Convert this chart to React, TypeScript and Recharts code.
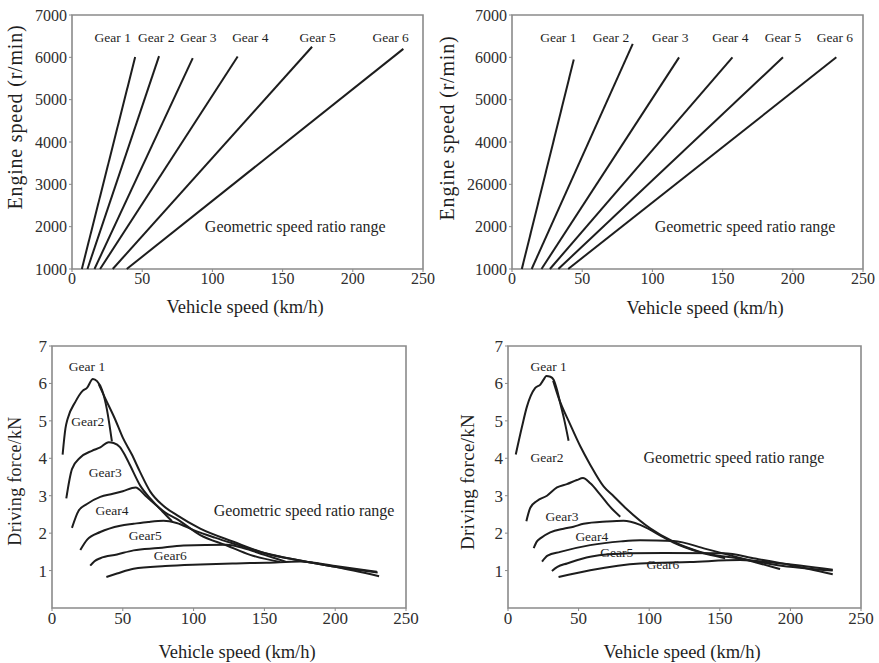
import { LineChart, Line, XAxis, YAxis, ReferenceArea, ReferenceDot } from 'recharts'

const FONT = '"Liberation Serif", "Times New Roman", Times, serif'
const INK = '#1d1d1d'
const FRAME = '#8a8a8a'

const speedTicks = [0, 50, 100, 150, 200, 250]
const rpmTicks = [1000, 2000, 3000, 4000, 5000, 6000, 7000]
const forceTicks = [1, 2, 3, 4, 5, 6, 7]

// top left: engine speed lines, one per gear (start at 1000 r/min)
const gearNames = ['Gear 1', 'Gear 2', 'Gear 3', 'Gear 4', 'Gear 5', 'Gear 6']
const leftStartSpeed = [7, 11, 16, 20, 29, 39]
const leftEndSpeed = [45, 62, 86, 118, 171, 236]
const leftEndRpm = [6010, 6030, 5980, 6020, 6250, 6200]
const leftLabelSpeed = [29, 60, 90, 127, 175, 227]

// top right
const rightStartSpeed = [7, 14, 21, 27, 33, 40]
const rightEndSpeed = [44, 86, 119, 157, 193, 231]
const rightEndRpm = [5950, 6320, 6000, 6000, 6000, 6000]
const rightLabelSpeed = [33, 70.5, 112.7, 155.5, 193, 230]
const rightRpmTickLabels = ['1000', '2000', '26000', '4000', '5000', '6000', '7000']

// bottom left: driving force curves [speed, force]
const leftForceG1 = [[7.5, 4.1], [9.5, 4.8], [11, 5.05], [16.4, 5.5], [21.6, 5.8], [24.7, 5.88], [28.9, 6.12], [31.8, 6.06], [35.3, 5.83], [38.8, 5.3], [42.3, 4.45]]
const leftForceOuter = [[33, 5.98], [37.6, 5.6], [44.7, 5.03], [50, 4.55], [56.4, 4.1], [62, 3.65], [69.4, 3.11], [78, 2.75], [88.2, 2.48], [104.7, 2.12], [128.2, 1.77], [151.7, 1.45], [175.2, 1.27], [200, 1.1], [230, 0.95]]
const leftForceG2 = [[10.1, 2.93], [14.1, 3.71], [20, 4.02], [28.2, 4.2], [34.1, 4.29], [40, 4.43], [43.5, 4.41], [48, 4.3], [52, 4.05], [55.3, 3.8], [62.3, 3.27], [70, 2.9], [78, 2.58], [84.7, 2.32]]
const leftForceG3 = [[14.1, 2.14], [18.8, 2.6], [24.7, 2.78], [34.1, 2.97], [43, 3.05], [50, 3.12], [59, 3.22], [66, 3.0], [72, 2.8], [80, 2.55], [88, 2.38], [104.7, 1.95], [123.5, 1.67], [139.9, 1.42], [161, 1.23]]
const leftForceG4 = [[20, 1.55], [24.7, 1.82], [34.1, 2.03], [48.2, 2.2], [57.6, 2.25], [68, 2.3], [78.8, 2.33], [88, 2.27], [100, 2.08], [115, 1.88], [130, 1.7], [150, 1.47], [175, 1.27], [200, 1.1], [231, 0.85]]
const leftForceG5 = [[27, 1.13], [30, 1.25], [34.1, 1.33], [45.9, 1.43], [57.6, 1.54], [75, 1.6], [92.9, 1.67], [123.5, 1.69], [135, 1.6], [150, 1.42], [165, 1.24]]
const leftForceG6 = [[38.4, 0.83], [45.9, 0.92], [57.6, 1.05], [80, 1.12], [104.7, 1.16], [130, 1.19], [151.7, 1.21], [175.2, 1.24], [200, 1.12], [229.4, 0.97]]
const leftForceLabels = ['Gear 1', 'Gear2', 'Gear3', 'Gear4', 'Gear5', 'Gear6']
const leftForceLabelPos = [[24.7, 6.45], [25.2, 5.0], [37.6, 3.63], [42.4, 2.61], [65.9, 1.94], [83.5, 1.42]]

// bottom right
const rightForceG1 = [[5.5, 4.1], [9.9, 4.84], [13.4, 5.38], [19.3, 5.88], [22.9, 5.97], [25.2, 6.1], [27.1, 6.2], [30, 6.18], [32.3, 6.1], [34.7, 5.83], [37, 5.47], [39.9, 5.02], [42.9, 4.47]]
const rightForceOuter = [[32, 6.07], [35.8, 5.62], [44.1, 4.9], [51.2, 4.32], [58.2, 3.83], [67.7, 3.25], [75, 2.98], [84.2, 2.64], [100.7, 2.13], [117.2, 1.77], [136.1, 1.5], [164.4, 1.32], [190, 1.15], [230, 1.0]]
const rightForceG2 = [[13, 2.32], [15.8, 2.68], [20.5, 2.86], [27.6, 3.0], [34.7, 3.22], [41.7, 3.31], [48.8, 3.42], [53.1, 3.47], [58.3, 3.33], [65.3, 3.03], [72.4, 2.7], [79.5, 2.44]]
const rightForceG3 = [[18.2, 1.6], [20.5, 1.78], [22.9, 1.86], [29.9, 2.02], [39.4, 2.12], [46.4, 2.17], [53.5, 2.25], [70, 2.31], [81.8, 2.33], [93.6, 2.22], [105.4, 1.99], [117.2, 1.75], [135, 1.5], [153.8, 1.33]]
const rightForceG4 = [[24.1, 1.24], [28, 1.4], [37, 1.5], [58.2, 1.68], [80, 1.78], [93.6, 1.81], [117.2, 1.79], [140, 1.58], [165, 1.33], [192.7, 1.04]]
const rightForceG5 = [[31.1, 0.99], [35, 1.1], [41.8, 1.19], [58.2, 1.37], [86.6, 1.46], [110, 1.47], [152.6, 1.46], [175, 1.32], [200, 1.15], [230, 0.9]]
const rightForceG6 = [[35.8, 0.83], [58.2, 1.01], [93.6, 1.19], [129, 1.23], [164.4, 1.28], [190, 1.2], [230, 1.02]]
const rightForceLabels = ['Gear 1', 'Gear2', 'Gear3', 'Gear4', 'Gear5', 'Gear6']
const rightForceLabelPos = [[28.8, 6.47], [27.6, 4.02], [38.2, 2.45], [59.4, 1.93], [77.1, 1.5], [109.7, 1.18]]

const note = 'Geometric speed ratio range'

type Pt = { x: number; y: number }
type Lbl = { text: string; x: number; y: number; size: number }

const toPts = (pairs: number[][]): Pt[] => pairs.map(([x, y]) => ({ x, y }))

type PanelProps = {
  left: number
  top: number
  width: number
  height: number
  yWidth: number
  xHeight: number
  margin: { top: number; right: number; bottom: number; left: number }
  yDomain: [number, number]
  yTicks: number[]
  yFormat?: (v: number, i: number) => string
  tickSize: number
  series: Pt[][]
  curve: 'linear' | 'monotone'
  labels: Lbl[]
}

function Panel(p: PanelProps) {
  const tickStyle = { fontSize: p.tickSize, fill: '#2e2e2e', fontFamily: FONT }
  return (
    <div style={{ position: 'absolute', left: p.left, top: p.top }}>
      <LineChart width={p.width} height={p.height} margin={p.margin}>
        <XAxis
          type="number"
          dataKey="x"
          domain={[0, 250]}
          ticks={speedTicks}
          interval={0}
          height={p.xHeight}
          axisLine={false}
          tickLine={{ stroke: FRAME }}
          tickSize={3}
          tickMargin={1}
          tick={tickStyle}
        />
        <YAxis
          type="number"
          dataKey="y"
          domain={p.yDomain}
          ticks={p.yTicks}
          interval={0}
          width={p.yWidth}
          axisLine={false}
          tickLine={{ stroke: FRAME }}
          tickSize={3}
          tickMargin={2}
          tick={tickStyle}
          tickFormatter={p.yFormat}
        />
        <ReferenceArea
          x1={0}
          x2={250}
          y1={p.yDomain[0]}
          y2={p.yDomain[1]}
          fill="none"
          stroke={FRAME}
          strokeWidth={1.6}
          ifOverflow="visible"
        />
        {p.series.map((d, i) => (
          <Line
            key={i}
            data={d}
            dataKey="y"
            type={p.curve}
            stroke={INK}
            strokeWidth={2}
            dot={false}
            activeDot={false}
            isAnimationActive={false}
          />
        ))}
        {p.labels.map((l, i) => (
          <ReferenceDot
            key={'l' + i}
            x={l.x}
            y={l.y}
            r={0}
            fill="none"
            stroke="none"
            ifOverflow="visible"
            label={{ value: l.text, position: 'center', fill: '#1f1f1f', fontSize: l.size, fontFamily: FONT }}
          />
        ))}
      </LineChart>
    </div>
  )
}

function Title({ text, x, y, size, vertical, spacing = 0 }: { text: string; x: number; y: number; size: number; vertical?: boolean; spacing?: number }) {
  return (
    <div
      style={{
        position: 'absolute',
        left: x,
        top: y,
        transform: `translate(-50%, -50%)${vertical ? ' rotate(-90deg)' : ''}`,
        whiteSpace: 'nowrap',
        fontSize: size,
        lineHeight: 1,
        letterSpacing: spacing,
        color: '#1f1f1f',
        fontFamily: FONT,
      }}
    >
      {text}
    </div>
  )
}

export default function App() {
  const leftRpm = gearNames.map((_, i) => [
    { x: leftStartSpeed[i], y: 1000 },
    { x: leftEndSpeed[i], y: leftEndRpm[i] },
  ])
  const rightRpm = gearNames.map((_, i) => [
    { x: rightStartSpeed[i], y: 1000 },
    { x: rightEndSpeed[i], y: rightEndRpm[i] },
  ])
  const leftRpmLabels: Lbl[] = [
    ...gearNames.map((g, i) => ({ text: g, x: leftLabelSpeed[i], y: 6480, size: 13.5 })),
    { text: note, x: 159, y: 2005, size: 16 },
  ]
  const rightRpmLabels: Lbl[] = [
    ...gearNames.map((g, i) => ({ text: g, x: rightLabelSpeed[i], y: 6480, size: 13.5 })),
    { text: note, x: 166, y: 2000, size: 16 },
  ]
  const leftForce = [leftForceG1, leftForceOuter, leftForceG2, leftForceG3, leftForceG4, leftForceG5, leftForceG6].map(toPts)
  const rightForce = [rightForceG1, rightForceOuter, rightForceG2, rightForceG3, rightForceG4, rightForceG5, rightForceG6].map(toPts)
  const leftForceLbl: Lbl[] = [
    ...leftForceLabels.map((t, i) => ({ text: t, x: leftForceLabelPos[i][0], y: leftForceLabelPos[i][1], size: 13.5 })),
    { text: note, x: 178, y: 2.61, size: 16 },
  ]
  const rightForceLbl: Lbl[] = [
    ...rightForceLabels.map((t, i) => ({ text: t, x: rightForceLabelPos[i][0], y: rightForceLabelPos[i][1], size: 13.5 })),
    { text: note, x: 160, y: 4.02, size: 16 },
  ]

  return (
    <div style={{ position: 'absolute', left: 0, top: 0, width: 879, height: 663, background: '#fff', fontFamily: FONT }}>
      <Panel
        left={0}
        top={0}
        width={440}
        height={330}
        yWidth={72}
        xHeight={61}
        margin={{ top: 15, right: 17, bottom: 0, left: 0 }}
        yDomain={[1000, 7000]}
        yTicks={rpmTicks}
        tickSize={16}
        series={leftRpm}
        curve="linear"
        labels={leftRpmLabels}
      />
      <Panel
        left={440}
        top={0}
        width={439}
        height={330}
        yWidth={72}
        xHeight={61}
        margin={{ top: 15, right: 16, bottom: 0, left: 0 }}
        yDomain={[1000, 7000]}
        yTicks={rpmTicks}
        yFormat={(v) => rightRpmTickLabels[rpmTicks.indexOf(v)] ?? String(v)}
        tickSize={16}
        series={rightRpm}
        curve="linear"
        labels={rightRpmLabels}
      />
      <Panel
        left={0}
        top={330}
        width={440}
        height={333}
        yWidth={52}
        xHeight={55}
        margin={{ top: 16, right: 34, bottom: 0, left: 0 }}
        yDomain={[0, 7]}
        yTicks={forceTicks}
        tickSize={17}
        series={leftForce}
        curve="monotone"
        labels={leftForceLbl}
      />
      <Panel
        left={440}
        top={330}
        width={439}
        height={333}
        yWidth={68}
        xHeight={55}
        margin={{ top: 16, right: 18, bottom: 0, left: 0 }}
        yDomain={[0, 7]}
        yTicks={forceTicks}
        tickSize={17}
        series={rightForce}
        curve="monotone"
        labels={rightForceLbl}
      />
      <Title text="Vehicle speed (km/h)" x={245} y={307} size={18.5} />
      <Title text="Engine speed (r/min)" x={15} y={117} size={20} vertical spacing={0.8} />
      <Title text="Vehicle speed (km/h)" x={705} y={308} size={18.5} />
      <Title text="Engine speed (r/min)" x={447} y={128} size={20} vertical spacing={0.8} />
      <Title text="Vehicle speed (km/h)" x={237} y={652} size={18.5} />
      <Title text="Driving force/kN" x={15} y={481} size={18} vertical spacing={0.3} />
      <Title text="Vehicle speed (km/h)" x={682} y={652} size={18.5} />
      <Title text="Driving force/kN" x={467} y={482} size={19} vertical spacing={0.3} />
    </div>
  )
}
